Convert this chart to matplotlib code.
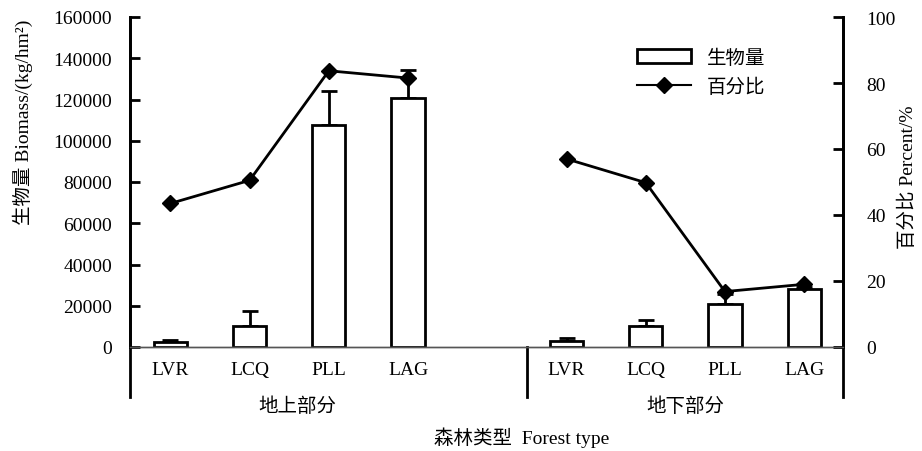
import numpy as np
import matplotlib
matplotlib.use("Agg")
from matplotlib import pyplot as plt
from matplotlib.patches import Patch
from matplotlib.lines import Line2D

plt.rcParams['font.family'] = ['Liberation Serif', 'Noto Sans CJK SC']
plt.rcParams['font.size'] = 14

# data
cats = ['LVR', 'LCQ', 'PLL', 'LAG']
groups = ['地上部分', '地下部分']
bio_above = [2200, 10000, 107500, 120500]
err_above = [1000, 7300, 16500, 14000]
bio_below = [2900, 10200, 21000, 28000]
err_below = [1700, 3000, 4500, 1000]
pct_above = [43.5, 50.5, 83.7, 81.5]
pct_below = [57.0, 49.8, 16.8, 19.0]

pos_a = np.arange(4)
pos_b = np.arange(4) + 5

fig = plt.figure(figsize=(9.22, 4.52), dpi=100)
ax = fig.add_axes([130/922, 1-348/452, (843-130)/922, 330/452])
ax2 = ax.twinx()

w = 0.42
for pos, b, e in [(pos_a, bio_above, err_above), (pos_b, bio_below, err_below)]:
    ax.bar(pos, b, w, color='white', edgecolor='black', linewidth=2, zorder=2)
    ax.errorbar(pos, b, yerr=[np.zeros(4), e], fmt='none', ecolor='black',
                elinewidth=2, capsize=6, capthick=2, zorder=1)

for pos, p in [(pos_a, pct_above), (pos_b, pct_below)]:
    ax2.plot(pos, p, '-D', color='black', lw=2, markersize=8, zorder=3)

ax.set_xlim(-0.51, 8.49)
ax.set_ylim(0, 160000)
ax.set_yticks(np.arange(0, 160001, 20000))
ax2.set_ylim(0, 100)
ax2.set_yticks(np.arange(0, 101, 20))

ax.set_xticks(list(pos_a) + list(pos_b))
ax.set_xticklabels(cats + cats)
ax.tick_params(axis='x', length=0, pad=10)
ax.tick_params(axis='y', direction='in', length=7, width=2, pad=13)
ax2.tick_params(axis='y', direction='in', length=7, width=2, pad=17)

for a in (ax, ax2):
    a.spines['top'].set_visible(False)
    a.spines['left'].set_linewidth(2)
    a.spines['right'].set_linewidth(2)
    a.spines['bottom'].set_linewidth(1)
    a.spines['bottom'].set_color('#555555')

# lines below the axis
yb = -50/330
for xv in (-0.51, 4.5, 8.49):
    ax.plot([xv, xv], [0, yb], color='black', lw=2, clip_on=False,
            transform=ax.get_xaxis_transform())

ax.text(1.6, -0.177, groups[0], ha='center', va='center', transform=ax.get_xaxis_transform())
ax.text(6.5, -0.177, groups[1], ha='center', va='center', transform=ax.get_xaxis_transform())
fig.text(522/922, 1-438/452, '森林类型  Forest type', ha='center', va='center')

fig.text(23/922, 1-122/452, '生物量 Biomass/(kg/hm²)', rotation=90, ha='center', va='center')
fig.text(908/922, 1-177/452, '百分比 Percent/%', rotation=90, ha='center', va='center')

handles = [Patch(facecolor='white', edgecolor='black', linewidth=2),
           Line2D([], [], color='black', lw=1.5, marker='D', markersize=8)]
ax2.legend(handles, ['生物量', '百分比'], frameon=False, loc='upper left',
           bbox_to_anchor=(619/922, 1-32/452), bbox_transform=fig.transFigure,
           handlelength=2.8, handleheight=0.8, handletextpad=0.8, labelspacing=0.55)

fig.savefig('out.png', dpi=100)
